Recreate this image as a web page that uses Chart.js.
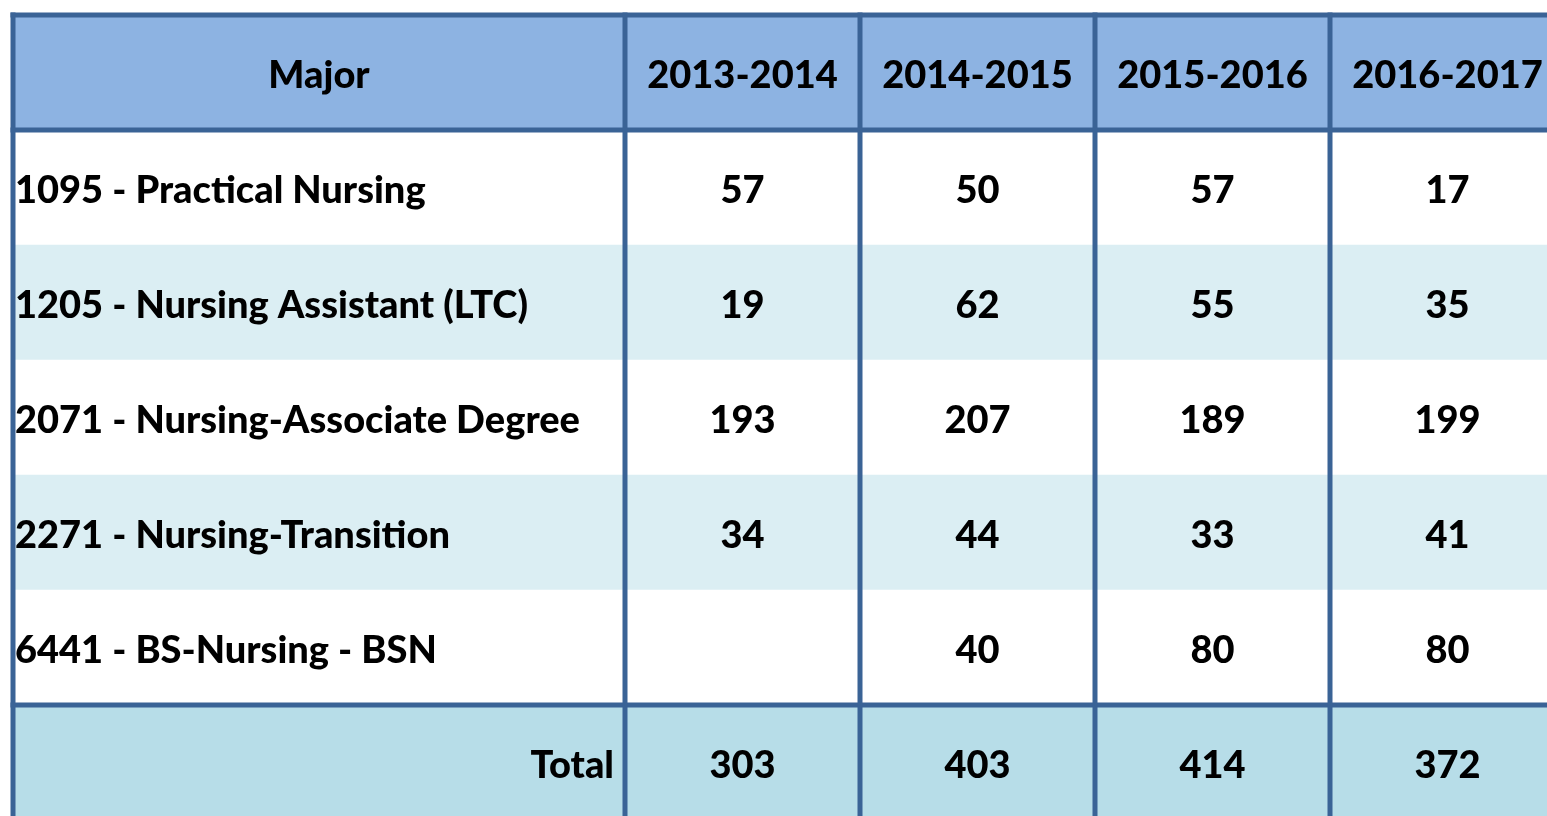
<!DOCTYPE html>
<html>
<head>
<meta charset="utf-8">
<script src="https://cdn.jsdelivr.net/npm/chart.js@4"></script>
<style>
  html, body { margin: 0; padding: 0; background: #fff; overflow: hidden; }
  #wrap { width: 1600px; height: 830px; }
</style>
</head>
<body>
<div id="wrap"><canvas id="myChart" width="1600" height="830"></canvas></div>
<script>
// table data
var headerMajor = 'Major';
var years = ['2013-2014', '2014-2015', '2015-2016', '2016-2017'];
var majors = [
    '1095 - Practical Nursing',
    '1205 - Nursing Assistant (LTC)',
    '2071 - Nursing-Associate Degree',
    '2271 - Nursing-Transition',
    '6441 - BS-Nursing - BSN'
];
var y2013 = [57, 19, 193, 34, null];
var y2014 = [50, 62, 207, 44, 40];
var y2015 = [57, 55, 189, 33, 80];
var y2016 = [17, 35, 199, 41, 80];
var totalLabel = 'Total';
var totals = [303, 403, 414, 372];

// layout (x in px units from the left border)
var colEdges = [0, 612, 847, 1082, 1317, 1552];
var lineColor = '#3A6396';
var font = '900 38px Lato';

var columns = [y2013, y2014, y2015, y2016];
var rowLabels = [headerMajor].concat(majors).concat([totalLabel]);
var rowColors = rowLabels.map(function (r, i) {
    if (i == 0) return '#8DB3E2';
    if (i == rowLabels.length - 1) return '#B7DDE8';
    return (i % 2 == 1) ? '#FFFFFF' : '#DBEEF3';
});

var tableText = {
    id: 'tableText',
    afterDraw: function (chart) {
        var c = chart.ctx;
        var x = chart.scales.x;
        var y = chart.scales.y;
        var area = chart.chartArea;
        var rowH = area.height / rowLabels.length;
        var edge = function (i) { return y.getPixelForValue(i) - rowH / 2; };
        var left = x.getPixelForValue(colEdges[0]);
        var right = x.getPixelForValue(colEdges[colEdges.length - 1]);

        c.save();
        c.fillStyle = lineColor;
        // horizontal borders: top, under header, above total
        [0, 1, rowLabels.length - 1].forEach(function (i) {
            c.fillRect(left - 2.5, edge(i) - 2.5, right - left + 5, 5);
        });
        // vertical borders
        colEdges.forEach(function (v) {
            c.fillRect(x.getPixelForValue(v) - 2.5, edge(0) - 2.5, 5, area.bottom - edge(0) + 2.5);
        });

        c.font = font;
        c.fillStyle = '#000';
        c.textBaseline = 'middle';
        var mid = function (a, b) { return (x.getPixelForValue(a) + x.getPixelForValue(b)) / 2; };

        // header
        c.textAlign = 'center';
        var hy = y.getPixelForValue(0) + 3;
        c.fillText(headerMajor, mid(colEdges[0], colEdges[1]), hy);
        years.forEach(function (yr, j) {
            c.fillText(yr, mid(colEdges[j + 1], colEdges[j + 2]), hy);
        });

        // body rows
        majors.forEach(function (m, i) {
            var ry = y.getPixelForValue(i + 1) + 3;
            c.textAlign = 'left';
            c.fillText(m, left + 2, ry);
            c.textAlign = 'center';
            columns.forEach(function (col, j) {
                if (col[i] != null) c.fillText(String(col[i]), mid(colEdges[j + 1], colEdges[j + 2]), ry);
            });
        });

        // total row
        var ty = y.getPixelForValue(rowLabels.length - 1) + 3;
        c.textAlign = 'right';
        c.fillText(totalLabel, x.getPixelForValue(colEdges[1]) - 11, ty);
        c.textAlign = 'center';
        totals.forEach(function (t, j) {
            c.fillText(String(t), mid(colEdges[j + 1], colEdges[j + 2]), ty);
        });
        c.restore();
    }
};

var ctx = document.getElementById('myChart');
var myChart = new Chart(ctx, {
    type: 'bar',
    data: {
        labels: rowLabels,
        datasets: [{
            data: rowLabels.map(function () { return [colEdges[0], colEdges[colEdges.length - 1]]; }),
            backgroundColor: rowColors,
            borderWidth: 0,
            barPercentage: 1,
            categoryPercentage: 1
        }]
    },
    options: {
        indexAxis: 'y',
        responsive: false,
        animation: false,
        events: [],
        layout: { padding: { left: 13, top: 15, right: 35, bottom: 10 } },
        plugins: { legend: { display: false }, tooltip: { enabled: false } },
        scales: {
            x: {
                type: 'linear',
                display: false,
                min: colEdges[0],
                max: colEdges[colEdges.length - 1]
            },
            y: {
                type: 'category',
                display: false
            }
        }
    },
    plugins: [tableText]
});
</script>
</body>
</html>
